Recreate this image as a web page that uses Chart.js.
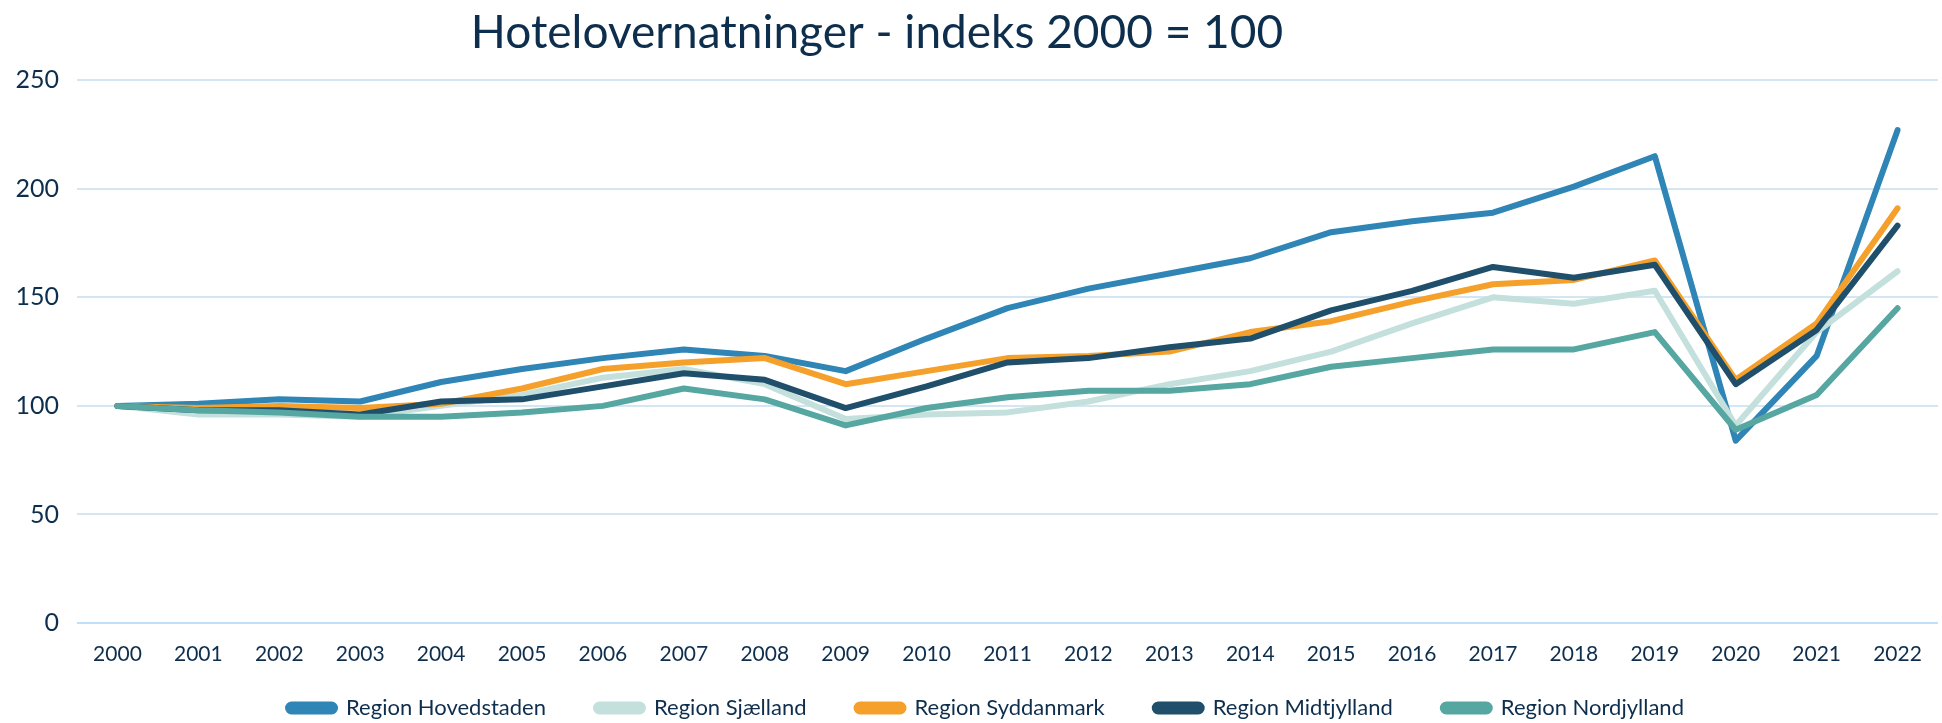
<!DOCTYPE html>
<html>
<head>
<meta charset="utf-8">
<script src="https://cdn.jsdelivr.net/npm/chart.js@4/dist/chart.umd.min.js"></script>
<style>
  html, body { margin: 0; padding: 0; background: #fff; }
  #wrap { width: 1942px; height: 723px; }
</style>
</head>
<body>
<div id="wrap"><canvas id="chart"></canvas></div>
<script>
// data
var years = ['2000','2001','2002','2003','2004','2005','2006','2007','2008','2009','2010','2011',
             '2012','2013','2014','2015','2016','2017','2018','2019','2020','2021','2022'];

var hovedstaden = [100, 101, 103, 102, 111, 117, 122, 126, 123, 116, 131, 145, 154, 161, 168, 180, 185, 189, 201, 215, 84, 123, 227];
var sjaelland   = [100, 96, 96, 95, 100, 105, 113, 117, 110, 94, 96, 97, 102, 110, 116, 125, 138, 150, 147, 153, 91, 134, 162];
var syddanmark  = [100, 99, 100, 99, 101, 108, 117, 120, 122, 110, 116, 122, 123, 125, 134, 139, 148, 156, 158, 167, 112, 138, 191];
var midtjylland = [100, 98, 98, 96, 102, 103, 109, 115, 112, 99, 109, 120, 122, 127, 131, 144, 153, 164, 159, 165, 110, 135, 183];
var nordjylland = [100, 98, 97, 95, 95, 97, 100, 108, 103, 91, 99, 104, 107, 107, 110, 118, 122, 126, 126, 134, 89, 105, 145];

var seriesNames  = ['Region Hovedstaden', 'Region Sjælland', 'Region Syddanmark', 'Region Midtjylland', 'Region Nordjylland'];
var seriesData   = [hovedstaden, sjaelland, syddanmark, midtjylland, nordjylland];
var seriesColors = ['#2f85b5', '#c3e0dd', '#f5a02b', '#1f4f6b', '#56a6a1'];

var textColor = '#0e2e4d';
var fontFam = 'Lato, "Open Sans", sans-serif';

var datasets = [];
for (var i = 0; i < seriesNames.length; i++) {
    datasets.push({
        label: seriesNames[i],
        data: seriesData[i],
        borderColor: seriesColors[i],
        backgroundColor: seriesColors[i],
        borderWidth: 6,
        pointRadius: 0,
        tension: 0,
        borderCapStyle: 'round',
        borderJoinStyle: 'round',
        order: seriesNames.length - i   // later series drawn on top, like the original
    });
}

// the original title and legend sit a little off the page centre,
// and the year labels hang below the (squeezed) x axis box
var nudgeBoxes = {
    id: 'nudgeBoxes',
    afterLayout: function(chart) {
        chart.titleBlock.left -= 92;
        chart.titleBlock.right -= 92;
        chart.legend.left += 17;
        chart.legend.right += 17;
        chart.scales.x.bottom += 40;
    }
};

var ctx = document.getElementById('chart').getContext('2d');
new Chart(ctx, {
    type: 'line',
    data: { labels: years, datasets: datasets },
    plugins: [nudgeBoxes],
    options: {
        responsive: true,
        maintainAspectRatio: false,
        animation: false,
        layout: { padding: { left: 0, right: 4, top: 0, bottom: -6 } },
        plugins: {
            title: {
                display: true,
                text: 'Hotelovernatninger - indeks 2000 = 100',
                color: textColor,
                font: { family: fontFam, size: 46, weight: 'normal' },
                padding: { top: 6, bottom: 19 }
            },
            legend: {
                position: 'bottom',
                labels: {
                    color: textColor,
                    font: { family: fontFam, size: 22 },
                    boxWidth: 47,
                    boxHeight: 7,
                    useBorderRadius: true,
                    borderRadius: 3.5,
                    padding: 50,
                    sort: function(a, b) { return a.datasetIndex - b.datasetIndex; }
                }
            },
            tooltip: { enabled: false }
        },
        scales: {
            x: {
                offset: true,
                grid: { display: false, drawTicks: false },
                border: { display: false },
                ticks: {
                    color: textColor,
                    font: { family: fontFam, size: 21 },
                    padding: 19,
                    maxRotation: 0,
                    autoSkip: false
                },
                afterFit: function(scale) { scale.height = 24; }
            },
            y: {
                min: 0,
                max: 250,
                grid: {
                    drawTicks: false,
                    lineWidth: 2,
                    color: function(c) { return c.tick && c.tick.value === 0 ? '#c0e0f9' : '#d4e6f3'; }
                },
                border: { display: false },
                ticks: {
                    stepSize: 50,
                    color: textColor,
                    font: { family: fontFam, size: 25 },
                    padding: 18
                },
                afterFit: function(scale) { scale.width = 77; }
            }
        }
    }
});
</script>
</body>
</html>
